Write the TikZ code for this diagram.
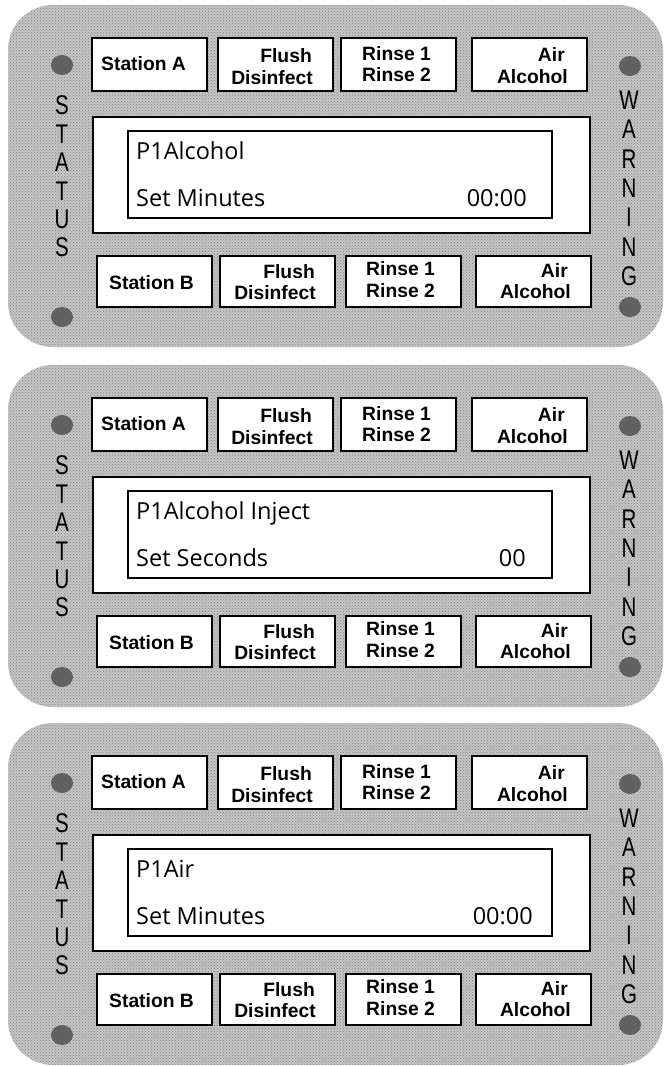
\documentclass[tikz,border=0pt]{standalone}
\usepackage{fontspec}
\usepackage{graphicx}
\setmainfont{Liberation Sans}
\newfontfamily\dispfont{Open Sans}
\newcommand\narrowltr[1]{\scalebox{0.76}[1]{#1}}
\usetikzlibrary{shapes.geometric,patterns}
\tikzset{
  panelbg/.style={rectangle, fill=black!23, rounded corners=45pt, minimum width=655pt, minimum height=342pt, inner sep=0pt,
    postaction={pattern=crosshatch dots, pattern color=black!48}},
  btn/.style={rectangle, draw=black, line width=2pt, fill=white, minimum width=115pt, inner sep=0pt},
  btxt/.style={inner sep=0pt, font=\fontsize{19.3}{22}\selectfont\bfseries},
  dispout/.style={rectangle, draw=black, line width=2.2pt, fill=white, inner sep=0pt},
  dispin/.style={rectangle, draw=black, line width=2pt, fill=white, inner sep=0pt},
  dtxt/.style={inner sep=0pt, font=\dispfont\fontsize{23.5}{26}\selectfont},
  ltr/.style={inner sep=0pt, font=\fontsize{27}{27}\selectfont},
  lamp/.style={ellipse, fill=black!62, minimum width=22pt, minimum height=20pt, inner sep=0pt}
}
\newcommand\mypanel[6]{%
\begin{scope}[shift={(0,#2)}]
  \node[panelbg] (#1bg) at (335.5,176) {};
  % top buttons
  \node[btn, minimum height=53pt] (#1sa) at (149.5,64.5) {};
  \node[btn, minimum height=53pt] (#1fa) at (275.5,64.5) {};
  \node[btn, minimum height=53pt] (#1ra) at (398.5,64.5) {};
  \node[btn, minimum height=53pt] (#1aa) at (529.5,64.5) {};
  \node[btxt, anchor=base west] (#1sat) at (101,70) {Station A};
  \node[btxt, anchor=base east] (#1fat1) at (312,62) {Flush};
  \node[btxt, anchor=base east] (#1fat2) at (313,84) {Disinfect};
  \node[btxt, anchor=base west] (#1rat1) at (362,60) {Rinse 1};
  \node[btxt, anchor=base west] (#1rat2) at (362,81) {Rinse 2};
  \node[btxt, anchor=base east] (#1aat1) at (565,61) {Air};
  \node[btxt, anchor=base east] (#1aat2) at (568,83) {Alcohol};
  % display
  \node[dispout, minimum width=497pt, minimum height=116pt] (#1do) at (341.5,175) {};
  \node[dispin, minimum width=424pt, minimum height=87pt] (#1di) at (340,174.5) {};
  \node[dtxt, anchor=base west] (#1l1) at (136,159) {#3};
  \node[dtxt, anchor=base west] (#1l2) at (136,206) {#4};
  \node[dtxt, anchor=base east] (#1v) at (#6,206) {#5};
  % bottom buttons
  \node[btn, minimum height=51pt] (#1sb) at (154.5,281.5) {};
  \node[btn, minimum height=51pt] (#1fb) at (277.5,281.5) {};
  \node[btn, minimum height=51pt] (#1rb) at (403,281.5) {};
  \node[btn, minimum height=51pt] (#1ab) at (533,281.5) {};
  \node[btxt, anchor=base west] (#1sbt) at (109,289) {Station B};
  \node[btxt, anchor=base east] (#1fbt1) at (315,278) {Flush};
  \node[btxt, anchor=base east] (#1fbt2) at (316,299) {Disinfect};
  \node[btxt, anchor=base west] (#1rbt1) at (366,275) {Rinse 1};
  \node[btxt, anchor=base west] (#1rbt2) at (366,297) {Rinse 2};
  \node[btxt, anchor=base east] (#1abt1) at (568,277) {Air};
  \node[btxt, anchor=base east] (#1abt2) at (571,298) {Alcohol};
  % lamps
  \node[lamp] (#1lt) at (62,65) {};
  \node[lamp] (#1lb) at (62,317) {};
  \node[lamp] (#1rt) at (630,66) {};
  \node[lamp] (#1rb) at (630,307) {};
  % STATUS
  \node[ltr] (#1s1) at (62,105) {\narrowltr{S}};
  \node[ltr] (#1s2) at (62,134) {\narrowltr{T}};
  \node[ltr] (#1s3) at (62,162) {\narrowltr{A}};
  \node[ltr] (#1s4) at (62,191) {\narrowltr{T}};
  \node[ltr] (#1s5) at (62,219) {\narrowltr{U}};
  \node[ltr] (#1s6) at (62,247) {\narrowltr{S}};
  % WARNING
  \node[ltr] (#1w1) at (629,100) {\narrowltr{W}};
  \node[ltr] (#1w2) at (629,129) {\narrowltr{A}};
  \node[ltr] (#1w3) at (629,159) {\narrowltr{R}};
  \node[ltr] (#1w4) at (629,188) {\narrowltr{N}};
  \node[ltr] (#1w5) at (629,217) {\narrowltr{I}};
  \node[ltr] (#1w6) at (629,247) {\narrowltr{N}};
  \node[ltr] (#1w7) at (629,276) {\narrowltr{G}};
\end{scope}}
\begin{document}
\begin{tikzpicture}[x=1pt,y=-1pt]
  \useasboundingbox (0,0) rectangle (665,1066);
  \fill[white] (0,0) rectangle (665,1066);
  \mypanel{pa}{0}{P1Alcohol}{Set Minutes}{00:00}{527}
  \mypanel{pb}{360}{P1Alcohol Inject}{Set Seconds}{00}{526}
  \mypanel{pc}{718}{P1Air}{Set Minutes}{00:00}{533}
\end{tikzpicture}
\end{document}
